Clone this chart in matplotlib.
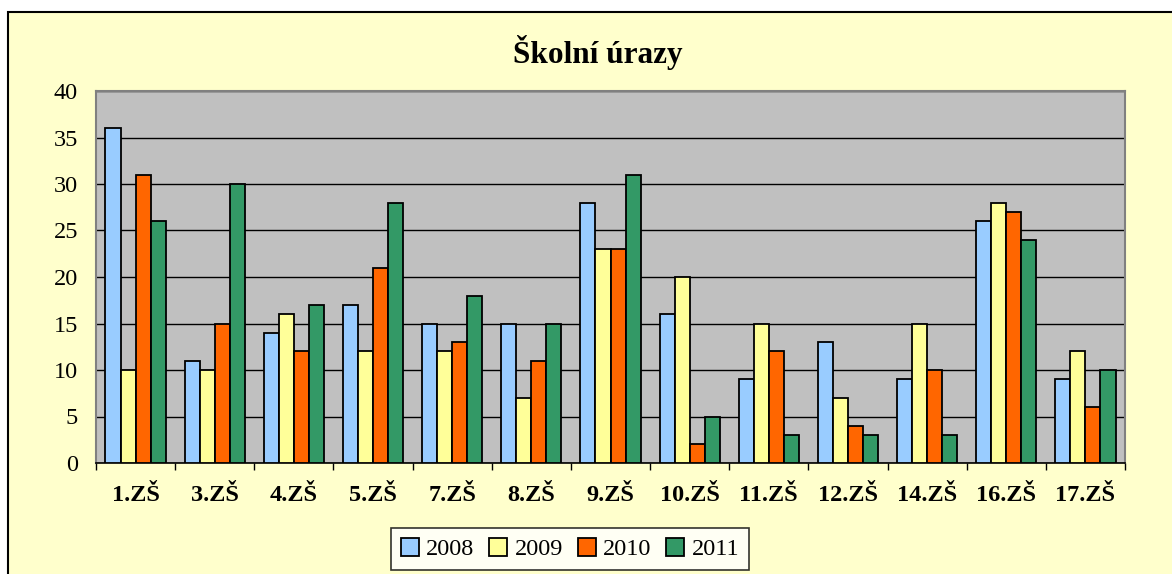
import numpy as np
import matplotlib
matplotlib.use("Agg")
import matplotlib.pyplot as plt
from matplotlib.patches import Rectangle

plt.rcParams["font.family"] = ["Liberation Serif", "DejaVu Serif"]

# --- data -----------------------------------------------------------------
schools = ["1.ZŠ", "3.ZŠ", "4.ZŠ", "5.ZŠ", "7.ZŠ", "8.ZŠ", "9.ZŠ",
           "10.ZŠ", "11.ZŠ", "12.ZŠ", "14.ZŠ", "16.ZŠ", "17.ZŠ"]
years = ["2008", "2009", "2010", "2011"]
v2008 = [36, 11, 14, 17, 15, 15, 28, 16, 9, 13, 9, 26, 9]
v2009 = [10, 10, 16, 12, 12, 7, 23, 20, 15, 7, 15, 28, 12]
v2010 = [31, 15, 12, 21, 13, 11, 23, 2, 12, 4, 10, 27, 6]
v2011 = [26, 30, 17, 28, 18, 15, 31, 5, 3, 3, 3, 24, 10]
colors = ["#99CCFF", "#FFFF99", "#FF6600", "#339966"]

series = [v2008, v2009, v2010, v2011]

fig = plt.figure(figsize=(11.72, 5.74), dpi=100)
fig.patch.set_facecolor("white")

# chart area frame (extends past the right/bottom edge like the screenshot)
fig.patches.append(Rectangle((8 / 1172, -0.1), 1.2, 1 - 12 / 574 + 0.1,
                             transform=fig.transFigure, facecolor="#FFFFCC",
                             edgecolor="black", linewidth=1.5, zorder=-5))

ax = fig.add_axes([96 / 1172, 1 - 463 / 574, (1125 - 96) / 1172, (463 - 91) / 574])
ax.set_zorder(2)
ax.set_facecolor("#C0C0C0")

x = np.arange(len(schools))
w = 0.19
for i, (vals, c, yr) in enumerate(zip(series, colors, years)):
    ax.bar(x + (i - 1.5) * w, vals, width=w, color=c, edgecolor="black",
           linewidth=1.3, label=yr, zorder=3)

ax.set_xlim(-0.5, len(schools) - 0.5)
ax.set_ylim(0, 40)
ax.set_yticks(range(0, 41, 5))
ax.yaxis.grid(True, color="black", linewidth=1.0, zorder=1)
ax.set_axisbelow(True)
ax.tick_params(axis="y", length=0, labelsize=17.5, pad=13)

# category labels, ticks at category boundaries
ax.set_xticks(x)
ax.set_xticklabels(schools, fontsize=17.5, fontweight="bold")
ax.tick_params(axis="x", which="major", length=0, pad=16)
ax.set_xticks(np.arange(-0.5, len(schools), 1), minor=True)
ax.tick_params(axis="x", which="minor", length=5, width=1, direction="out")

for s in ["top", "right", "left"]:
    ax.spines[s].set_color("#808080")
    ax.spines[s].set_linewidth(1.5)
ax.spines["bottom"].set_color("black")
ax.spines["bottom"].set_linewidth(1.2)

fig.text(598 / 1172, 1 - 52 / 574, "Školní úrazy", ha="center", va="center",
         fontsize=22.5, fontweight="bold")

leg = fig.legend(loc="center", bbox_to_anchor=(570 / 1172, 1 - 549 / 574),
                 ncol=4, fontsize=17.5, frameon=True, fancybox=False,
                 handlelength=0.75, handleheight=0.75, handletextpad=0.3,
                 columnspacing=0.6, borderpad=0.4)
leg.get_frame().set_edgecolor("black")
leg.get_frame().set_linewidth(1.2)
leg.get_frame().set_facecolor("white")

fig.savefig("out.png", dpi=100)
